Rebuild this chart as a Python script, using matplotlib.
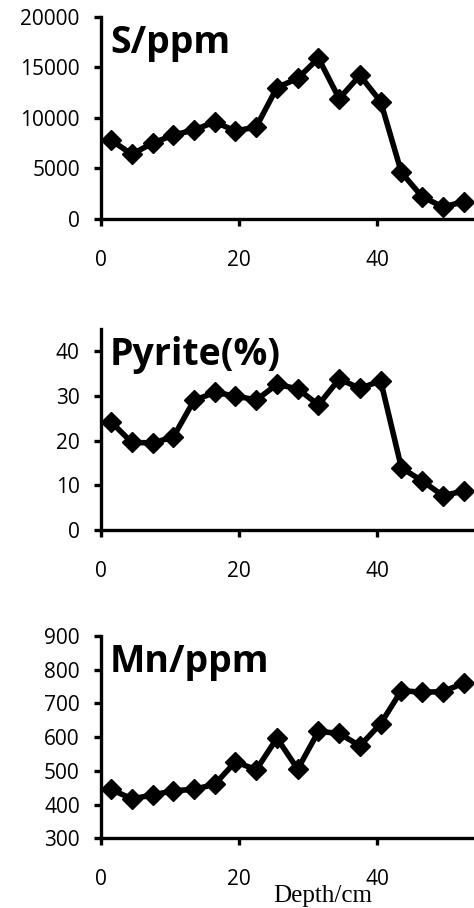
import matplotlib.pyplot as plt

plt.rcParams['font.family'] = ['Open Sans', 'DejaVu Sans']

depth = [1.5, 4.5, 7.5, 10.5, 13.5, 16.5, 19.5, 22.5, 25.5,
         28.5, 31.5, 34.5, 37.5, 40.5, 43.5, 46.5, 49.5, 52.5]
s_ppm = [7800, 6400, 7500, 8300, 8800, 9600, 8700, 9100, 13000,
         13900, 15900, 11900, 14200, 11600, 4600, 2200, 1200, 1700]
pyrite = [24.2, 19.6, 19.5, 20.8, 29.0, 30.8, 30.0, 29.1, 32.6,
          31.6, 28.0, 33.8, 31.7, 33.4, 13.9, 11.0, 7.7, 8.7]
mn_ppm = [445, 417, 428, 441, 445, 460, 527, 503, 597,
          505, 617, 611, 574, 640, 738, 733, 735, 760]

panels = [
    (s_ppm, 'S/ppm', (0, 20000), [0, 5000, 10000, 15000, 20000], [0.2124, 0.7588, 0.7876, 0.2228]),
    (pyrite, 'Pyrite(%)', (0, 45), [0, 10, 20, 30, 40], [0.2124, 0.4163, 0.7876, 0.2214]),
    (mn_ppm, 'Mn/ppm', (300, 900), [300, 400, 500, 600, 700, 800, 900], [0.2124, 0.0768, 0.7876, 0.2228]),
]

fig = plt.figure(figsize=(4.74, 9.08), dpi=100)

for vals, name, ylim, yticks, pos in panels:
    ax = fig.add_axes(pos)
    ax.plot(depth, vals, c='black', lw=4, marker='D', ms=10, clip_on=False)
    ax.set_xlim(0, 54)
    ax.set_ylim(*ylim)
    ax.set_yticks(yticks)
    ax.set_xticks([0, 20, 40])
    for side in ['top', 'right']:
        ax.spines[side].set_visible(False)
    for side in ['left', 'bottom']:
        ax.spines[side].set_linewidth(2.4)
    ax.tick_params(axis='y', direction='out', length=5, width=2.4, pad=10, labelsize=15)
    ax.tick_params(axis='x', direction='out', length=5, width=2.4, pad=17, labelsize=15)
    ax.text(0.025, 0.82, name, transform=ax.transAxes, fontsize=27,
            fontweight='bold', va='baseline', ha='left')

# axis title sits just under the bottom panel's tick labels
fig.text(323 / 474, 1 - 902 / 908, 'Depth/cm', family='Liberation Serif',
         fontsize=18, ha='center', va='baseline')

fig.savefig('out.png', dpi=100)
